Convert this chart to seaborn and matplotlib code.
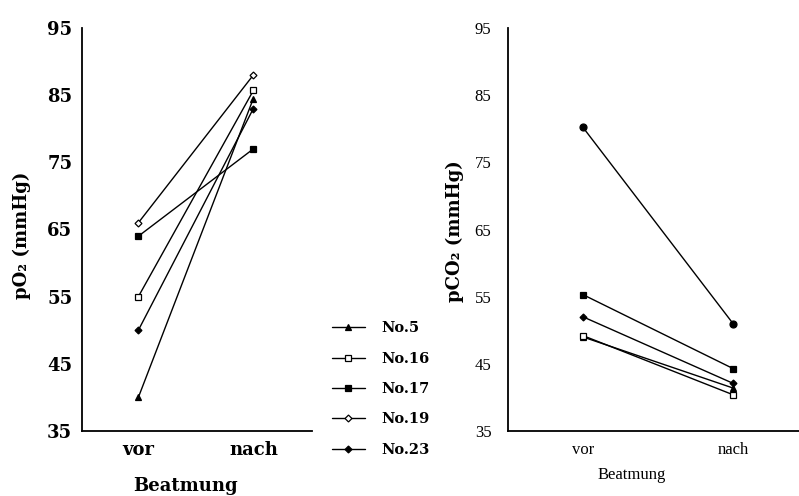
import matplotlib
matplotlib.use("Agg")
import matplotlib.pyplot as plt
import seaborn as sns
import pandas as pd

# ---- data ----
phases = ["vor", "nach"]
patients = ["No.5", "No.16", "No.17", "No.19", "No.23"]
po2_vor = [40, 55, 64, 66, 50]
po2_nach = [84.5, 85.7, 77, 88, 83]
pco2_vor = [49.0, 49.2, 55.3, 80.2, 52.0]
pco2_nach = [41.4, 40.4, 44.3, 51.0, 42.1]
yticks = [35, 45, 55, 65, 75, 85, 95]

sns.set_style("white")
plt.rcParams.update({"text.color": "black", "axes.labelcolor": "black",
                     "xtick.color": "black", "ytick.color": "black"})

def long_df(vor, nach):
    rows = []
    for p, a, b in zip(patients, vor, nach):
        rows.append({"patient": p, "x": 0, "value": a})
        rows.append({"patient": p, "x": 1, "value": b})
    return pd.DataFrame(rows)

df_o2 = long_df(po2_vor, po2_nach)
df_co2 = long_df(pco2_vor, pco2_nach)

left_style = {
    "No.5": dict(marker="^", markerfacecolor="black", markersize=4.5),
    "No.16": dict(marker="s", markerfacecolor="white", markersize=4.5),
    "No.17": dict(marker="s", markerfacecolor="black", markersize=4.5),
    "No.19": dict(marker="D", markerfacecolor="white", markersize=3.5),
    "No.23": dict(marker="D", markerfacecolor="black", markersize=3.5),
}
right_style = {
    "No.5": dict(marker="^", markerfacecolor="black", markersize=4.5),
    "No.16": dict(marker="s", markerfacecolor="white", markersize=4.5),
    "No.17": dict(marker="s", markerfacecolor="black", markersize=4.5),
    "No.19": dict(marker="o", markerfacecolor="black", markersize=5),
    "No.23": dict(marker="D", markerfacecolor="black", markersize=3.5),
}

fig = plt.figure(figsize=(7.99, 4.96), dpi=100)
fig.patch.set_facecolor("white")
axL = fig.add_axes([82/799, 1-431/496, 230/799, 403/496])
axR = fig.add_axes([508/799, 1-431/496, 291/799, 403/496])

for ax, df, styles in [(axL, df_o2, left_style), (axR, df_co2, right_style)]:
    for p in patients:
        sub = df[df["patient"] == p]
        sns.lineplot(data=sub, x="x", y="value", ax=ax, color="black",
                     linewidth=1.0, markeredgecolor="black", markeredgewidth=0.9,
                     label=p, legend=False, **styles[p])
    for s in ["top", "right"]:
        ax.spines[s].set_visible(False)
    for s in ["left", "bottom"]:
        ax.spines[s].set_linewidth(1.3)
        ax.spines[s].set_color("black")
    ax.set_ylim(35, 95)
    ax.set_yticks(yticks)
    ax.set_xticks([0, 1])
    ax.set_xticklabels(phases)
    ax.set_facecolor("white")

axL.set_xlim(-0.49, 1.51)
axR.set_xlim(-0.5, 1.44)

# left panel text (bold serif)
fL = dict(family="DejaVu Serif", weight="bold", size=13, color="black")
axL.tick_params(axis="both", length=0, pad=7, labelsize=13, labelcolor="black")
for t in axL.get_xticklabels() + axL.get_yticklabels():
    t.set_fontfamily("DejaVu Serif"); t.set_fontweight("bold")
axL.set_xlabel("Beatmung", fontdict=fL)
axL.xaxis.set_label_coords(0.448, -0.115)
axL.set_ylabel("pO₂ (mmHg)", fontdict=fL)
axL.yaxis.set_label_coords(-0.261, 0.486)
axL.yaxis.label.set_va("center")

# right panel text
fR = dict(family="Liberation Serif", size=12, color="black")
axR.tick_params(axis="y", length=0, pad=12, labelsize=12, labelcolor="black")
axR.tick_params(axis="x", length=0, pad=8, labelsize=12, labelcolor="black")
for t in axR.get_xticklabels() + axR.get_yticklabels():
    t.set_fontfamily("Liberation Serif")
axR.set_xlabel("Beatmung", fontdict=fR)
axR.xaxis.set_label_coords(0.426, -0.09)
axR.set_ylabel("pCO₂ (mmHg)", fontdict=dict(family="DejaVu Serif", weight="bold",
                                             size=13, color="black"))
axR.yaxis.set_label_coords(-0.182, 0.496)
axR.yaxis.label.set_va("center")

handles, labels = axL.get_legend_handles_labels()
leg = fig.legend(handles, labels, loc="center left",
                 bbox_to_anchor=(332/799, 1-389/496), frameon=False,
                 prop=dict(family="DejaVu Serif", weight="bold", size=10.5),
                 handlelength=2.26, handletextpad=1.1, labelspacing=1.12,
                 borderpad=0, borderaxespad=0, labelcolor="black")

fig.savefig("out.png", dpi=100, facecolor="white")
